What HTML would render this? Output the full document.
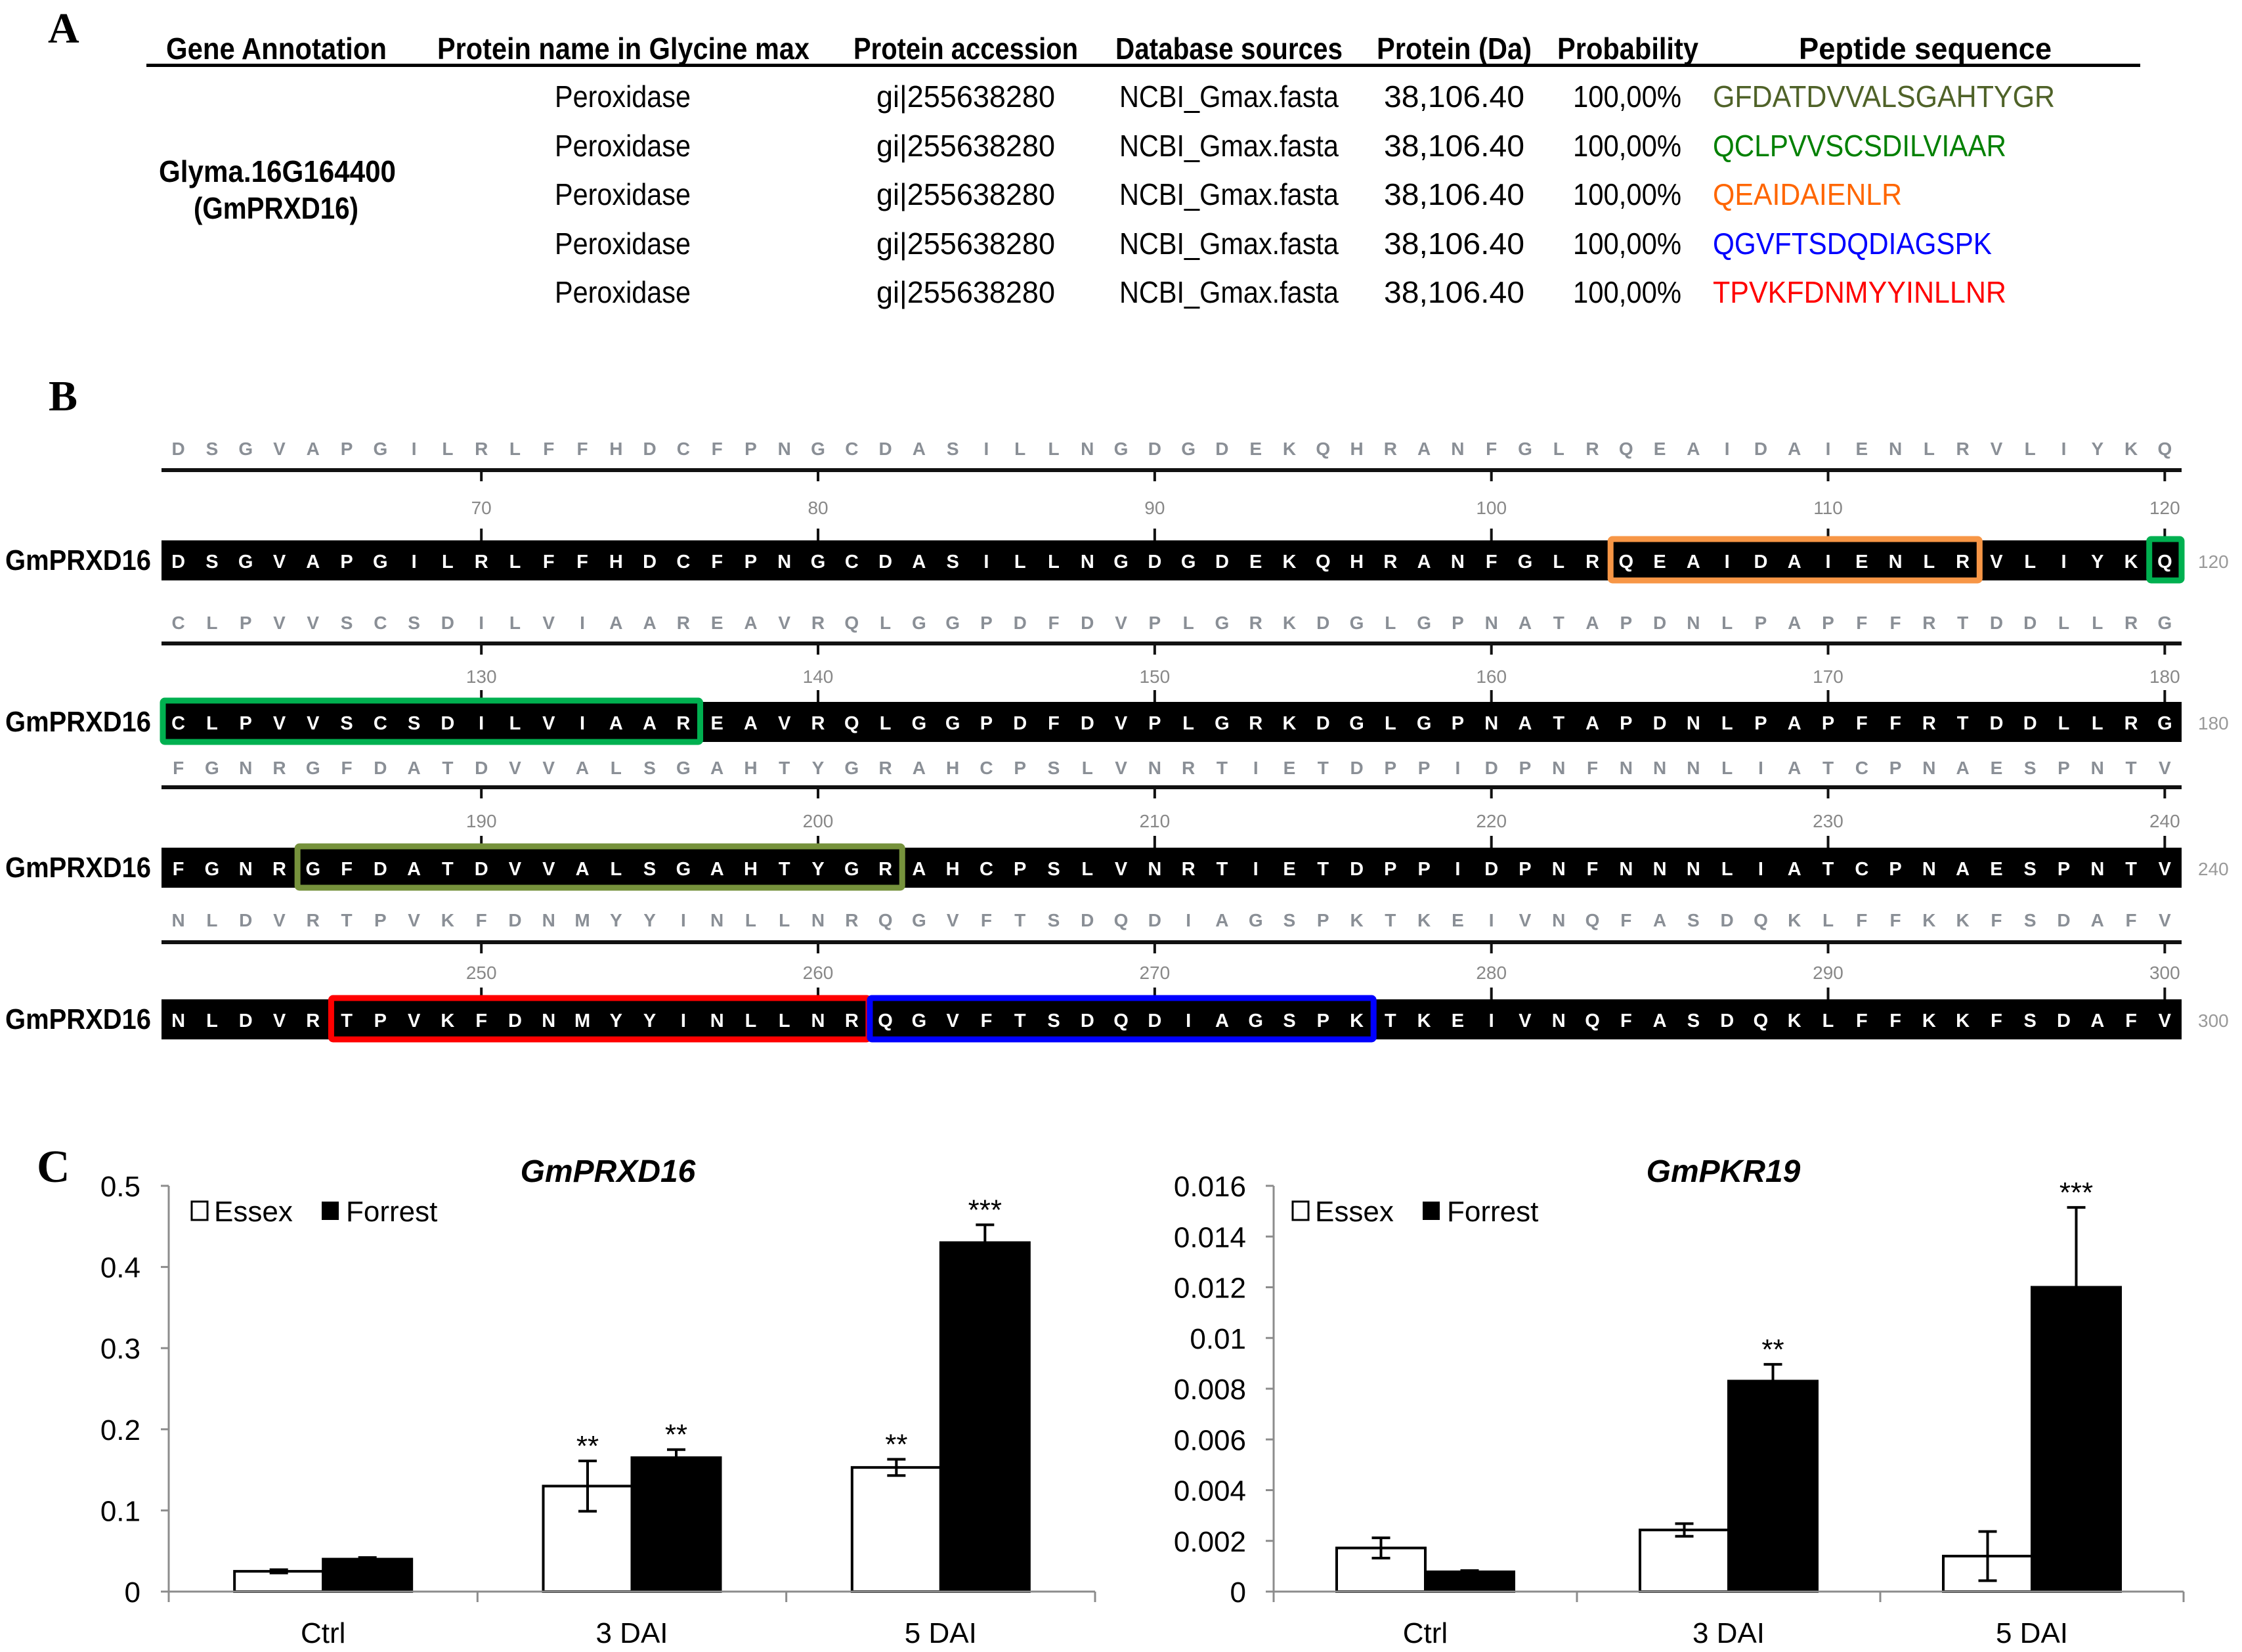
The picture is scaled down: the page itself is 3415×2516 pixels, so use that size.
<!DOCTYPE html>
<html><head><meta charset="utf-8"><style>
html,body{margin:0;padding:0;background:#fff;}
svg{display:block;font-family:"Liberation Sans Narrow","Liberation Sans",sans-serif;}
</style></head><body>
<svg id="fig" width="3415" height="2516" viewBox="0 0 3415 2516" xmlns="http://www.w3.org/2000/svg">
<rect width="3415" height="2516" fill="#fff"/>
<!-- Panel A -->
<g id="panelA">
<text x="73" y="65" font-family="Liberation Serif,serif" font-weight="bold" font-size="66">A</text>
<g font-weight="bold" font-size="46">
<text x="253" y="90" textLength="336" lengthAdjust="spacingAndGlyphs">Gene Annotation</text>
<text x="666" y="90" textLength="567" lengthAdjust="spacingAndGlyphs">Protein name in Glycine max</text>
<text x="1300" y="90" textLength="342" lengthAdjust="spacingAndGlyphs">Protein accession</text>
<text x="1699" y="90" textLength="346" lengthAdjust="spacingAndGlyphs">Database sources</text>
<text x="2097" y="90" textLength="236" lengthAdjust="spacingAndGlyphs">Protein (Da)</text>
<text x="2372" y="90" textLength="215" lengthAdjust="spacingAndGlyphs">Probability</text>
<text x="2740" y="90" textLength="385" lengthAdjust="spacingAndGlyphs">Peptide sequence</text>
</g>
<rect x="223" y="97" width="3037" height="5" fill="#000"/>
<text x="242" y="277" font-weight="bold" font-size="46" textLength="361" lengthAdjust="spacingAndGlyphs">Glyma.16G164400</text>
<text x="295" y="333" font-weight="bold" font-size="46" textLength="251" lengthAdjust="spacingAndGlyphs">(GmPRXD16)</text>
<g id="tableRows"></g>
</g>
<text x="74" y="625" font-family="Liberation Serif,serif" font-weight="bold" font-size="66">B</text>
<g id="panelB"></g>
<text x="56" y="1800" font-family="Liberation Serif,serif" font-weight="bold" font-size="70">C</text>
<g id="chart1"></g>
<g id="chart2"></g>
</svg>
<script>
// ---------- table data ----------
const peptides = ["GFDATDVVALSGAHTYGR","QCLPVVSCSDILVIAAR","QEAIDAIENLR","QGVFTSDQDIAGSPK","TPVKFDNMYYINLLNR"];
const peptideColors = ["#4f6228","#008000","#ff6600","#0000ff","#ff0000"];
const peptideWidths = [521,447,288,425,447];
// ---------- sequence data ----------
const seqRows = [
 "DSGVAPGILRLFFHDCFPNGCDASILLNGDGDEKQHRANFGLRQEAIDAIENLRVLIYKQ",
 "CLPVVSCSDILVIAAREAVRQLGGPDFDVPLGRKDGLGPNATAPDNLPAPFFRTDDLLRG",
 "FGNRGFDATDVVALSGAHTYGRAHCPSLVNRTIETDPPIDPNFNNNLIATCPNAESPNTV",
 "NLDVRTPVKFDNMYYINLLNRQGVFTSDQDIAGSPKTKEIVNQFASDQKLFFKKFSDAFV"];
const rowStart = [61,121,181,241];
const boxes = [[0,44,54,"#f79646"],[0,60,60,"#00b050"],[1,1,16,"#00b050"],[2,5,22,"#76923c"],[3,6,21,"#ff0000"],[3,22,36,"#0000ff"]];
// ---------- chart data ----------
const categories = ["Ctrl","3 DAI","5 DAI"];
const c1Essex = [0.025,0.130,0.153];
const c1EssexErr = [0.002,0.031,0.010];
const c1Forrest = [0.040,0.165,0.430];
const c1ForrestErr = [0.002,0.010,0.022];
const c1EssexSig = ["","**","**"];
const c1ForrestSig = ["","**","***"];
const c1Ticks = ["0","0.1","0.2","0.3","0.4","0.5"];
const c2Essex = [0.00172,0.00243,0.00140];
const c2EssexErr = [0.00040,0.00025,0.00097];
const c2Forrest = [0.00078,0.00830,0.01200];
const c2ForrestErr = [0.00005,0.00066,0.00315];
const c2EssexSig = ["","",""];
const c2ForrestSig = ["","**","***"];
const c2Ticks = ["0","0.002","0.004","0.006","0.008","0.01","0.012","0.014","0.016"];

const NS="http://www.w3.org/2000/svg";
function mk(parent,tag,attrs,txt){const e=document.createElementNS(NS,tag);for(const k in attrs)e.setAttribute(k,attrs[k]);if(txt!==undefined)e.textContent=txt;parent.appendChild(e);return e;}

// table rows
const tr=document.getElementById('tableRows');
const rowY=[163,238,312,387,461];
for(let i=0;i<5;i++){
 const y=rowY[i];
 let t;
 t=mk(tr,'text',{x:845,y:y,'font-size':46,textLength:207,lengthAdjust:'spacingAndGlyphs'},'Peroxidase');
 
 
 t=mk(tr,'text',{x:1335,y:y,'font-size':46,textLength:272,lengthAdjust:'spacingAndGlyphs'},'gi|255638280');
 
 
 t=mk(tr,'text',{x:1705,y:y,'font-size':46,textLength:334,lengthAdjust:'spacingAndGlyphs'},'NCBI_Gmax.fasta');
 
 
 t=mk(tr,'text',{x:2108,y:y,'font-size':46,textLength:214,lengthAdjust:'spacingAndGlyphs'},'38,106.40');
 
 
 t=mk(tr,'text',{x:2396,y:y,'font-size':46,textLength:165,lengthAdjust:'spacingAndGlyphs'},'100,00%');
 
 
 t=mk(tr,'text',{x:2609,y:y,'font-size':46,fill:peptideColors[i],textLength:peptideWidths[i],lengthAdjust:'spacingAndGlyphs'},peptides[i]);
 
 
}

// sequence blocks
const pb=document.getElementById('panelB');
const X0=246, X1=3323, step=(X1-X0)/60;
const letY=[682,947,1168,1400], rulY=[716,980,1199,1435], numY=[773,1030,1250,1481], barY=[823,1069,1291,1522];
const barH=61;
const cx=k=>X0+(k-0.5)*step;
for(let r=0;r<4;r++){
 const g=mk(pb,'g',{});
 
 
 for(let k=1;k<=60;k++){
  const t=mk(g,'text',{x:cx(k),y:letY[r]+11,'font-size':28,'font-weight':'bold',fill:'#8a8f96','text-anchor':'middle'},seqRows[r][k-1]);
  
  
 }
 const rl=mk(g,'rect',{x:X0,y:rulY[r]-3,width:X1-X0,height:6,fill:'#111'});
 
 
 for(let n=1;n<=6;n++){
  const k=n*10, x=cx(k), num=rowStart[r]+k-1;
  mk(g,'rect',{x:x-2,y:rulY[r],width:4,height:17,fill:'#111'});
  mk(g,'rect',{x:x-2,y:barY[r]-18,width:4,height:18,fill:'#111'});
  const t=mk(g,'text',{x:x,y:numY[r]+10,'font-size':28,fill:'#888','text-anchor':'middle'},String(num));
  
  
 }
 const bar=mk(g,'rect',{x:X0,y:barY[r],width:X1-X0,height:barH,fill:'#000'});
 
 
 for(let k=1;k<=60;k++){
  const t=mk(g,'text',{x:cx(k),y:barY[r]+42,'font-size':29,'font-weight':'bold',fill:'#fff','text-anchor':'middle'},seqRows[r][k-1]);
  
  
 }
 const lab=mk(g,'text',{x:8,y:barY[r]+45,'font-size':44,'font-weight':'bold',textLength:222,lengthAdjust:'spacingAndGlyphs'},'GmPRXD16');
 
 
 const en=mk(g,'text',{x:3348,y:barY[r]+42,'font-size':28,fill:'#999'},String(rowStart[r]+59));
 
 
}
boxes.forEach(b=>{
 const r=b[0], x=X0+(b[1]-1)*step+2, w=(b[2]-b[1]+1)*step-2;
 const e=mk(pb,'rect',{x:x,y:barY[r]-2,width:w,height:barH+2,fill:'none',stroke:b[3],'stroke-width':9,rx:3});
 
 
});

// charts
function chart(id,opt){
 const g=document.getElementById(id);
 const {x0,x1,y0,y1,max,ticks,essex,essexErr,forrest,forrestErr,essexSig,forrestSig,title,titleX,legX,tickRight}=opt;
 const ys=v=>y0-(v/max)*(y0-y1);
 const cw=(x1-x0)/categories.length, bw=135;
 const ya=mk(g,'line',{x1:x0,y1:y1,x2:x0,y2:y0+2,stroke:'#8c8c8c','stroke-width':3});
 
 
 ticks.forEach((t,i)=>{
  const v=i*max/(ticks.length-1), y=ys(v);
  mk(g,'line',{x1:x0-12,y1:y,x2:x0,y2:y,stroke:'#8c8c8c','stroke-width':3});
  const tl=mk(g,'text',{x:tickRight,y:y+16,'font-size':44,'text-anchor':'end'},t);
  
  
 });
 for(let i=0;i<=categories.length;i++){
  const x=x0+i*cw;
  mk(g,'line',{x1:x,y1:y0,x2:x,y2:y0+16,stroke:'#8c8c8c','stroke-width':3});
 }
 categories.forEach((c,i)=>{
  const cxm=x0+(i+0.5)*cw;
  const l=mk(g,'text',{x:cxm,y:2502,'font-size':44,'text-anchor':'middle'},c);
  
  
  const series=[[essex,essexErr,essexSig,'#fff',cxm-bw],[forrest,forrestErr,forrestSig,'#000',cxm]];
  series.forEach((s,j)=>{
   const v=s[0][i], e=s[1][i], bx=s[4], by=ys(v);
   const r=mk(g,'rect',{x:bx,y:by,width:bw,height:y0-by,fill:s[3],stroke:'#000','stroke-width':4});
   
   
   const ex=bx+bw/2, et=ys(v+e), eb=ys(v-e);
   const el=mk(g,'path',{d:`M${ex},${et}V${eb}M${ex-14},${et}H${ex+14}M${ex-14},${eb}H${ex+14}`,stroke:'#000','stroke-width':4,fill:'none'});
   
   
   if(s[2][i]){
    const st=mk(g,'text',{x:ex,y:et-8,'font-size':44,'text-anchor':'middle'},s[2][i]);
    
    
   }
  });
 });
 const xa=mk(g,'line',{x1:x0,y1:y0,x2:x1,y2:y0,stroke:'#8c8c8c','stroke-width':3});
 
 
 const tt=mk(g,'text',{x:titleX,y:1800,'font-size':48,'font-weight':'bold','font-style':'italic','text-anchor':'middle'},title);
 
 
 const lg=mk(g,'g',{});
 
 
 mk(lg,'rect',{x:legX+2,y:1830,width:24,height:28,fill:'#fff',stroke:'#000','stroke-width':3});
 const t1=mk(lg,'text',{x:legX+36,y:1860,'font-size':44},'Essex');
 
 
 mk(lg,'rect',{x:legX+200,y:1830,width:26,height:28,fill:'#000'});
 const t2=mk(lg,'text',{x:legX+237,y:1860,'font-size':44},'Forrest');
 
 
}
chart('chart1',{x0:257,x1:1668,y0:2424,y1:1806,max:0.5,ticks:c1Ticks,essex:c1Essex,essexErr:c1EssexErr,forrest:c1Forrest,forrestErr:c1ForrestErr,essexSig:c1EssexSig,forrestSig:c1ForrestSig,title:'GmPRXD16',titleX:926,legX:290,tickRight:214});
chart('chart2',{x0:1940,x1:3326,y0:2424,y1:1806,max:0.016,ticks:c2Ticks,essex:c2Essex,essexErr:c2EssexErr,forrest:c2Forrest,forrestErr:c2ForrestErr,essexSig:c2EssexSig,forrestSig:c2ForrestSig,title:'GmPKR19',titleX:2625,legX:1967,tickRight:1898});
</script>
</body></html>
